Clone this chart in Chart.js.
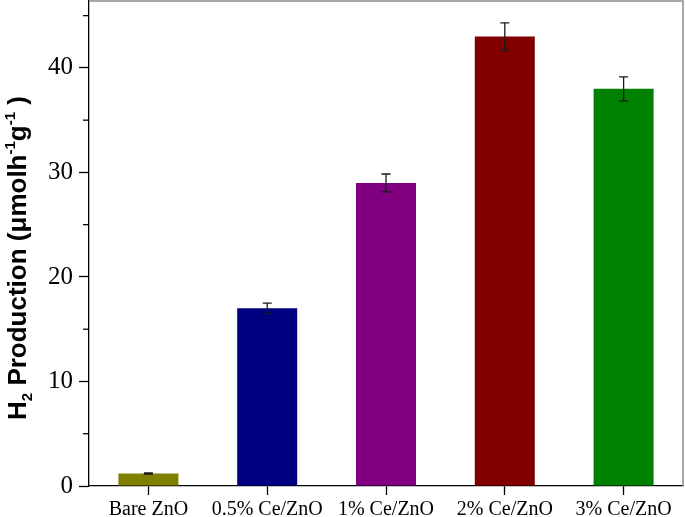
<!DOCTYPE html>
<html>
<head>
<meta charset="utf-8">
<script src="https://cdn.jsdelivr.net/npm/chart.js@4/dist/chart.umd.min.js"></script>
<style>
  html, body { margin: 0; padding: 0; background: #fff; }
  #wrap { width: 685px; height: 517px; position: relative; }
</style>
</head>
<body>
<div id="wrap"><canvas id="chart"></canvas></div>
<script>
// data
const categories = ['Bare ZnO', '0.5% Ce/ZnO', '1% Ce/ZnO', '2% Ce/ZnO', '3% Ce/ZnO'];
const production = [1.2, 17, 29, 43, 38];
const errors = [0.05, 0.5, 0.85, 1.3, 1.15];
const barColors = ['#808000', '#000080', '#800080', '#800000', '#008000'];
const yMin = 0;
const yMax = 46.4;

// error bars + minor ticks + frame + rotated title with sub/superscripts
const extras = {
    id: 'extras',
    afterDatasetsDraw(chart) {
        const ctx = chart.ctx;
        const y = chart.scales.y;
        const meta = chart.getDatasetMeta(0);
        ctx.save();
        ctx.strokeStyle = '#1a1a1a';
        ctx.lineWidth = 1.3;
        meta.data.forEach((bar, i) => {
            const top = y.getPixelForValue(production[i] + errors[i]);
            const bot = y.getPixelForValue(production[i] - errors[i]);
            ctx.beginPath();
            ctx.moveTo(bar.x, top); ctx.lineTo(bar.x, bot);
            ctx.moveTo(bar.x - 4.5, top); ctx.lineTo(bar.x + 4.5, top);
            ctx.moveTo(bar.x - 4.5, bot); ctx.lineTo(bar.x + 4.5, bot);
            ctx.stroke();
        });
        ctx.restore();
    },
    afterDraw(chart) {
        const ctx = chart.ctx;
        const a = chart.chartArea;
        const y = chart.scales.y;
        ctx.save();
        // top and right frame
        ctx.strokeStyle = '#8c8c8c';
        ctx.lineWidth = 1.5;
        ctx.beginPath();
        ctx.moveTo(a.left, a.top); ctx.lineTo(a.right, a.top); ctx.lineTo(a.right, a.bottom);
        ctx.stroke();
        // minor ticks
        ctx.strokeStyle = '#000';
        ctx.lineWidth = 1.3;
        for (let v = 5; v < yMax; v += 10) {
            const py = y.getPixelForValue(v);
            ctx.beginPath();
            ctx.moveTo(a.left - 6, py); ctx.lineTo(a.left, py);
            ctx.stroke();
        }
        // y title
        const parts = [
            { t: 'H', s: 26, dy: 0 },
            { t: '2', s: 15, dy: 6 },
            { t: ' Production (\u03bcmolh', s: 26, dy: 0 },
            { t: '-1', s: 15, dy: -11 },
            { t: 'g', s: 26, dy: 0 },
            { t: '-1', s: 15, dy: -11 },
            { t: ' )', s: 26, dy: 0 }
        ];
        ctx.fillStyle = '#000';
        ctx.textBaseline = 'alphabetic';
        let total = 0;
        parts.forEach(p => {
            ctx.font = 'bold ' + p.s + 'px "Liberation Sans", Arial, sans-serif';
            p.w = ctx.measureText(p.t).width;
            total += p.w;
        });
        ctx.translate(26, 258);
        ctx.rotate(-Math.PI / 2);
        let x = -total / 2;
        parts.forEach(p => {
            ctx.font = 'bold ' + p.s + 'px "Liberation Sans", Arial, sans-serif';
            ctx.fillText(p.t, x, p.dy);
            x += p.w;
        });
        ctx.restore();
    }
};

new Chart(document.getElementById('chart'), {
    type: 'bar',
    data: {
        labels: categories,
        datasets: [{
            data: production,
            backgroundColor: barColors,
            borderWidth: 0,
            barPercentage: 0.505,
            categoryPercentage: 1
        }]
    },
    options: {
        responsive: true,
        maintainAspectRatio: false,
        animation: false,
        layout: { padding: { top: 1, right: 2, left: 0, bottom: 0 } },
        plugins: { legend: { display: false }, tooltip: { enabled: false } },
        scales: {
            x: {
                offset: true,
                afterFit: (s) => { s.height = 31; s.paddingLeft = 0; s.paddingRight = 0; },
                border: { display: true, color: '#000', width: 1.3 },
                grid: { offset: false, drawOnChartArea: false, drawTicks: true, tickLength: 9, tickColor: '#000', tickWidth: 1.3 },
                ticks: {
                    color: '#000',
                    padding: 3,
                    maxRotation: 0,
                    font: { family: '"Liberation Serif", "Times New Roman", serif', size: 20 }
                }
            },
            y: {
                min: yMin,
                max: yMax,
                afterFit: (s) => { s.width = 89; s.paddingTop = 0; s.paddingBottom = 0; },
                border: { display: true, color: '#000', width: 1.3 },
                grid: {
                    drawOnChartArea: false,
                    drawTicks: true,
                    tickLength: 10,
                    tickWidth: 1.3,
                    tickColor: (c) => (c.tick && c.tick.value % 10 === 0) ? '#000' : 'rgba(0,0,0,0)'
                },
                ticks: {
                    stepSize: 10,
                    color: '#000',
                    padding: 6,
                    callback: (v) => (v % 10 === 0 ? v : ''),
                    font: { family: '"Liberation Serif", "Times New Roman", serif', size: 25 }
                }
            }
        }
    },
    plugins: [extras]
});
</script>
</body>
</html>
